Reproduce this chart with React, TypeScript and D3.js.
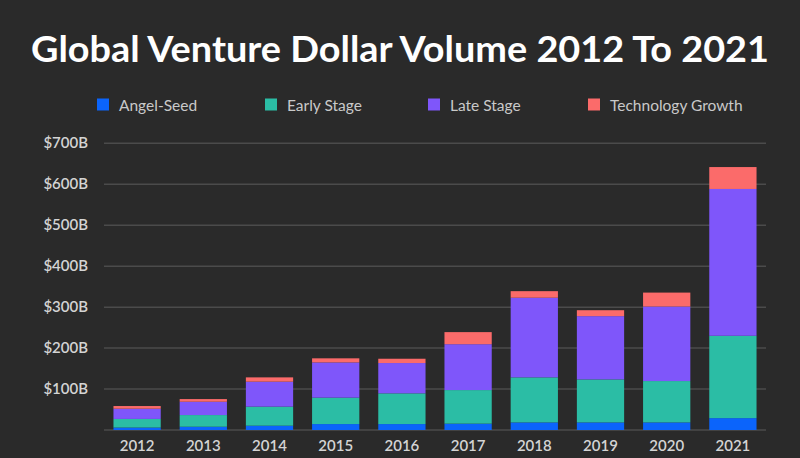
import React from "react";
import * as d3 from "d3";

const years = ["2012", "2013", "2014", "2015", "2016", "2017", "2018", "2019", "2020", "2021"];
const angelSeed = [6, 8, 10.5, 14.5, 14.5, 15.5, 18.5, 18.5, 18.5, 29];
const earlyStage = [21, 28.5, 46.5, 64.5, 75, 82, 110, 105, 101, 201];
const lateStage = [25, 32.5, 61, 86, 74, 112, 194.5, 154.5, 182, 358.5];
const techGrowth = [6.5, 6.5, 10.5, 10, 10.5, 29.5, 16, 14.5, 34, 53.5];
const yTicks = [100, 200, 300, 400, 500, 600, 700];

const seriesKeys = ["Angel-Seed", "Early Stage", "Late Stage", "Technology Growth"];
const seriesColors = ["#0b64fb", "#2bbda5", "#7f56fa", "#fb6b6a"];

const W = 800;
const H = 458;

export default function App() {
  const rows = years.map((y, i) => ({
    year: y,
    "Angel-Seed": angelSeed[i],
    "Early Stage": earlyStage[i],
    "Late Stage": lateStage[i],
    "Technology Growth": techGrowth[i],
  }));
  const stacked = d3.stack<any>().keys(seriesKeys)(rows);

  const x = d3.scaleBand<string>().domain(years).range([104, 766]).paddingInner(0.286).paddingOuter(0.143);
  const y = d3.scaleLinear().domain([0, 700]).range([430, 143.3]);

  const legendX = [97, 265, 428, 588];
  const font = "Lato, 'Open Sans', sans-serif";

  return (
    <svg width={W} height={H} style={{ display: "block", position: "absolute", left: 0, top: 0 }}>
      <rect x={0} y={0} width={W} height={H} fill="#2a2a2a" />
      <text x={400} y={62} textAnchor="middle" fill="#ffffff" fontFamily={font} fontWeight={700} fontSize={36}
        textLength={738} lengthAdjust="spacingAndGlyphs">
        Global Venture Dollar Volume 2012 To 2021
      </text>
      {seriesKeys.map((k, i) => (
        <g key={k}>
          <rect x={legendX[i]} y={98.5} width={12} height={12} fill={seriesColors[i]} />
          <text x={legendX[i] + 22} y={110.5} fill="#c9c9c9" fontFamily={font} fontSize={15.5}>{k}</text>
        </g>
      ))}
      {[0, ...yTicks].map((t) => (
        <line key={t} x1={104} x2={766} y1={y(t)} y2={y(t)} stroke="#4b4b4b" strokeWidth={1.5} />
      ))}
      {yTicks.map((t) => (
        <text key={t} x={88} y={y(t) + 5} textAnchor="end" fill="#d4d4d4" fontFamily={font} fontSize={15} fontWeight={600}>
          {`$${t}B`}
        </text>
      ))}
      {stacked.map((s, si) => (
        <g key={s.key} fill={seriesColors[si]}>
          {s.map((d: any) => (
            <rect key={d.data.year} x={x(d.data.year)} y={y(d[1])} width={x.bandwidth()} height={y(d[0]) - y(d[1])} />
          ))}
        </g>
      ))}
      {years.map((yr) => (
        <text key={yr} x={(x(yr) as number) + x.bandwidth() / 2} y={451} textAnchor="middle" fill="#d4d4d4"
          fontFamily={font} fontSize={15} fontWeight={600}>
          {yr}
        </text>
      ))}
    </svg>
  );
}
